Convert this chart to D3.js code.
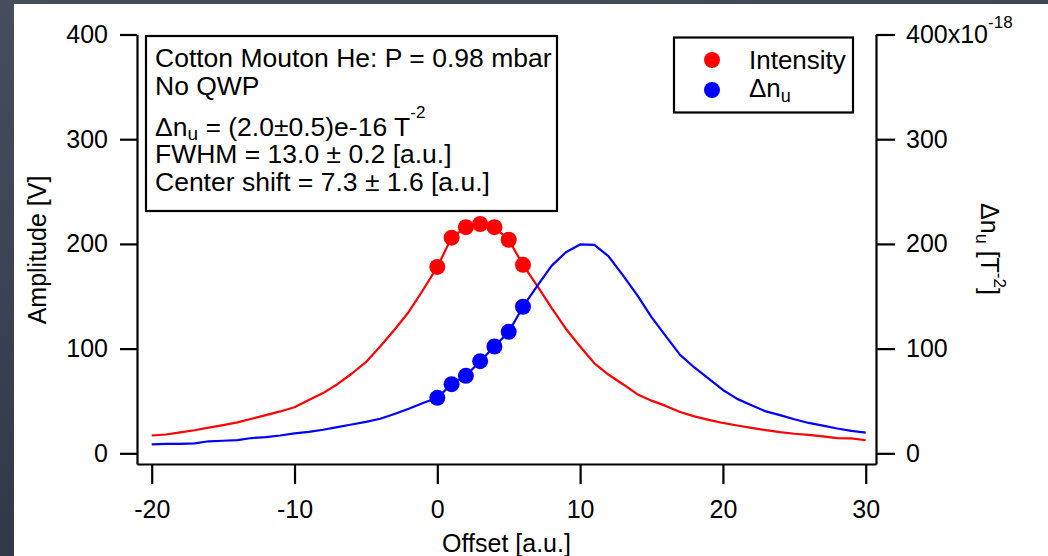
<!DOCTYPE html>
<html>
<head>
<meta charset="utf-8">
<script src="https://cdn.jsdelivr.net/npm/d3@7"></script>
<style>
  html, body { margin: 0; padding: 0; }
  body { width: 1048px; height: 556px; overflow: hidden; background: #3a4051; }
  svg { display: block; font-family: "Liberation Sans", Arial, Helvetica, sans-serif; }
</style>
</head>
<body>
<svg id="chart" width="1048" height="556"></svg>
<script>
// ---- data ----
const offsets = [-20,-19,-18,-17,-16,-15,-14,-13,-12,-11,-10,-9,-8,-7,-6,-5,-4,-3,-2,-1,0,1,2,3,4,5,6,7,8,9,10,11,12,13,14,15,16,17,18,19,20,21,22,23,24,25,26,27,28,29,30];
const intensity = [17,18,20,22,24.5,27,29.5,33,36.5,40,44,51,57.5,66,76,87,102,118,135,156,178,206,216,219,216,204,180,160,139,119,102,86,75,66,56.5,50.3,45.3,39.5,35.3,32,29,26.6,24.3,22.2,20.2,18.7,17.7,16.2,14.5,14.2,12.5];
const deltaN = [8.5,9,9,9.5,11.5,12,12.6,14.6,15.5,17,19,20.5,22.5,25,27.5,30,33,37.5,42.5,48,53,66,74,88,102,116,140,160,179,192,199.5,199,188,170,151,130,112,94,82,71.3,60.5,52,46,40,36.5,32.5,29,26.5,23.7,21.5,19.8];
const markerOffsets = [0,1,2,3,4,5,6];
const intensityMarkers = [178,206,216,219,216,204,180];
const deltaNMarkers = [53,66,74,88,102,116,140];
const xTicks = [-20,-10,0,10,20,30];
const yTicks = [0,100,200,300,400];
const annotationLines = ["Cotton Mouton He: P = 0.98 mbar", "No QWP"];

// ---- setup ----
const svg = d3.select("#chart");
const defs = svg.append("defs");
const grad = defs.append("linearGradient").attr("id","bg").attr("x1","0").attr("y1","0").attr("x2","0.3").attr("y2","1");
grad.append("stop").attr("offset","0").attr("stop-color","#474d5c");
grad.append("stop").attr("offset","0.5").attr("stop-color","#3b4253");
grad.append("stop").attr("offset","1").attr("stop-color","#2f3646");
svg.append("rect").attr("width",1048).attr("height",556).attr("fill","url(#bg)");
svg.append("rect").attr("x",14).attr("y",4).attr("width",1034).attr("height",552).attr("fill","#ffffff");

const x = d3.scaleLinear().domain([-21.03, 30.72]).range([137, 876]);
const yL = d3.scaleLinear().domain([-10.2, 400]).range([464, 34.5]);
const yR = d3.scaleLinear().domain([-10.2, 400]).range([464, 34.5]);

const FS = 25;
const AFS = 26.5;

// axes
function styleAxis(g){
  g.selectAll("path.domain").attr("stroke","#000").attr("stroke-width",2.2);
  g.selectAll(".tick line").attr("stroke","#000").attr("stroke-width",2.2);
  g.selectAll(".tick text").attr("fill","#000").style("font-size",FS+"px").style("font-family","'Liberation Sans', Arial, sans-serif");
}
const gx = svg.append("g").attr("transform","translate(0,464)")
  .call(d3.axisBottom(x).tickValues(xTicks).tickSize(20).tickSizeOuter(0).tickPadding(16.5).tickFormat(d3.format("d")));
gx.call(styleAxis);
gx.selectAll(".tick text").text(d => d < 0 ? "-" + Math.abs(d) : d);

const gyl = svg.append("g").attr("transform","translate(137,0)")
  .call(d3.axisLeft(yL).tickValues(yTicks).tickSize(17).tickSizeOuter(0).tickPadding(12).tickFormat(d3.format("d")));
gyl.call(styleAxis);

const gyr = svg.append("g").attr("transform","translate(876,0)")
  .call(d3.axisRight(yR).tickValues(yTicks).tickSize(19).tickSizeOuter(0).tickPadding(11).tickFormat(d3.format("d")));
gyr.call(styleAxis);
gyr.selectAll(".tick text").filter(d => d === 400).each(function(){
  const t = d3.select(this);
  t.text("400x10");
  t.append("tspan").attr("dy", -15).style("font-size","17px").text("-18");
});

// lines
const lineL = d3.line().x((d,i)=>x(offsets[i])).y(d=>yL(d));
const lineR = d3.line().x((d,i)=>x(offsets[i])).y(d=>yR(d));
svg.append("path").datum(intensity).attr("d",lineL).attr("fill","none").attr("stroke","#ff0000").attr("stroke-width",2.2).attr("stroke-linejoin","round");
svg.append("path").datum(deltaN).attr("d",lineR).attr("fill","none").attr("stroke","#0000ff").attr("stroke-width",2.2).attr("stroke-linejoin","round");

svg.append("g").selectAll("circle").data(intensityMarkers).join("circle")
  .attr("cx",(d,i)=>x(markerOffsets[i])).attr("cy",d=>yL(d)).attr("r",8).attr("fill","#ff0000");
svg.append("g").selectAll("circle").data(deltaNMarkers).join("circle")
  .attr("cx",(d,i)=>x(markerOffsets[i])).attr("cy",d=>yR(d)).attr("r",8).attr("fill","#0000ff");

// axis titles
svg.append("text").attr("transform","translate(46,250) rotate(-90)").attr("text-anchor","middle")
  .style("font-size",FS+"px").text("Amplitude [V]");
svg.append("text").attr("x",506.5).attr("y",552).attr("text-anchor","middle")
  .style("font-size",FS+"px").text("Offset [a.u.]");
const rt = svg.append("text").attr("transform","translate(981,249) rotate(90)").attr("text-anchor","middle").style("font-size",FS+"px");
rt.append("tspan").text("\u0394n");
rt.append("tspan").attr("dy",5).style("font-size","18px").text("u");
rt.append("tspan").attr("dy",-5).text(" [T");
rt.append("tspan").attr("dy",-13).style("font-size","17px").text("-2");
rt.append("tspan").attr("dy",13).text("]");

// annotation box
svg.append("rect").attr("x",146).attr("y",36).attr("width",411).attr("height",175)
  .attr("fill","#fff").attr("stroke","#000").attr("stroke-width",2.2);
const ann = svg.append("g").style("font-size",AFS+"px");
ann.append("text").attr("x",155).attr("y",67).text(annotationLines[0]);
ann.append("text").attr("x",155).attr("y",94.5).text(annotationLines[1]);
const l3 = ann.append("text").attr("x",155).attr("y",136);
l3.append("tspan").text("\u0394n");
l3.append("tspan").attr("dy",4).style("font-size","19px").text("u");
l3.append("tspan").attr("dy",-4).text(" = (2.0\u00b10.5)e-16 T");
l3.append("tspan").attr("dy",-18).style("font-size","17px").text("-2");
ann.append("text").attr("x",155).attr("y",162.5).text("FWHM = 13.0 \u00b1 0.2 [a.u.]");
ann.append("text").attr("x",155).attr("y",191).text("Center shift = 7.3 \u00b1 1.6 [a.u.]");

// legend
svg.append("rect").attr("x",674).attr("y",37.5).attr("width",179).attr("height",75)
  .attr("fill","#fff").attr("stroke","#000").attr("stroke-width",2.2);
const legendItems = [{c:"#ff0000", y:60}, {c:"#0000ff", y:90}];
svg.append("g").selectAll("circle").data(legendItems).join("circle")
  .attr("cx",712).attr("cy",d=>d.y).attr("r",8).attr("fill",d=>d.c);
svg.append("text").attr("x",749).attr("y",68.5).style("font-size","26px").text("Intensity");
const lg2 = svg.append("text").attr("x",749).attr("y",97).style("font-size","26px");
lg2.append("tspan").text("\u0394n");
lg2.append("tspan").attr("dy",5).style("font-size","18px").text("u");
</script>
</body>
</html>
